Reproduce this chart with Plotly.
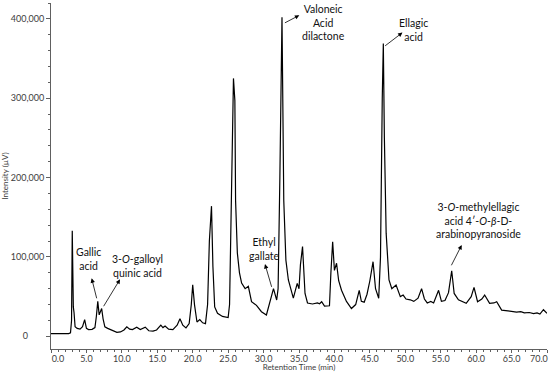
import plotly.graph_objects as go

# Retention time (min) and intensity (µV)
time_min = [0, 2.5, 2.75, 2.9, 3.0, 3.07, 3.15, 3.25, 3.4, 3.7, 4.1, 4.45, 4.75, 5.0, 5.3, 5.8, 6.2, 6.4,
            6.6, 6.8, 6.95, 7.15, 7.35, 7.6, 8.0, 8.7, 9.3, 9.8, 10.3, 10.7, 11.1, 11.5, 12.1, 12.6, 13.3,
            13.8, 14.4, 14.9, 15.5, 15.8, 16.1, 16.6, 17.2, 17.8, 18.2, 18.6, 19.05, 19.5, 19.8, 20.0,
            20.25, 20.6, 21.0, 21.4, 21.8, 22.1, 22.35, 22.65, 22.85, 23.1, 23.5, 24.2, 25.0, 25.2,
            25.4, 25.6, 25.75, 25.95, 26.05, 26.3, 26.6, 26.9, 27.4, 27.85, 28.3, 29.0, 29.7, 30.4,
            30.8, 31.4, 31.85, 32.05, 32.3, 32.6, 32.85, 33.15, 33.5, 33.9, 34.2, 34.75, 35.0, 35.2,
            35.5, 35.85, 36.2, 36.9, 37.6, 37.9, 38.2, 38.6, 39.3, 39.5, 39.75, 40.0, 40.3, 40.6, 41.0,
            41.7, 42.4, 43.0, 43.5, 43.8, 44.2, 44.6, 45.0, 45.45, 45.8, 46.25, 46.5, 46.75, 46.9,
            47.05, 47.3, 47.7, 48.1, 48.7, 49.3, 49.7, 50.1, 50.7, 51.2, 51.8, 52.3, 52.7, 53.1, 53.6,
            54.0, 54.7, 55.1, 55.6, 56.1, 56.55, 56.9, 57.5, 58.6, 59.3, 59.7, 60.2, 60.8, 61.2, 61.9,
            62.5, 62.9, 63.6, 64.3, 65.0, 65.7, 66.3, 66.8, 67.5, 68.1, 68.6, 69.0, 69.5, 69.8, 70.0]
intensity = [3500, 3500, 4500, 20000, 133000, 60000, 37000, 30000, 12000, 10000, 9000, 12000, 21000,
             10000, 8500, 8800, 11000, 25000, 44000, 27000, 30000, 35000, 22000, 12000, 10000, 7000,
             5000, 5500, 8000, 12000, 9000, 8500, 11500, 8500, 11500, 7000, 6500, 8000, 14000, 11000,
             13000, 9000, 8500, 14000, 22000, 14000, 10500, 16000, 40000, 65000, 40000, 18000, 21000,
             17000, 16000, 40000, 120000, 164000, 88000, 37000, 29000, 25000, 23500, 40000, 130000,
             260000, 325000, 297000, 171000, 105000, 80000, 67000, 60000, 63000, 43600, 39000, 31000,
             26800, 39000, 60000, 45700, 60000, 200000, 402000, 171000, 96000, 71000, 58000, 48000,
             66700, 60000, 90000, 113000, 54000, 42000, 40700, 42000, 41000, 43600, 38000, 38500, 80000,
             119000, 83000, 92000, 70000, 58000, 44000, 35000, 40000, 58000, 44000, 43000, 53000,
             70000, 94000, 60000, 48000, 100000, 300000, 369000, 250000, 130000, 71000, 60000, 64600,
             50000, 52000, 47000, 46000, 44000, 48000, 60000, 47000, 42000, 44000, 42000, 58000, 44000,
             45000, 55000, 82600, 54000, 46000, 41500, 50000, 61700, 43600, 47000, 52000, 41500, 42000,
             43600, 33000, 32000, 31500, 30500, 31000, 29500, 30000, 28500, 29500, 28000, 33500, 31000,
             29000]

# Tick labels
x_tick_vals = [0, 5, 10, 15, 20, 25, 30, 35, 40, 45, 50, 55, 60, 65, 70]
x_tick_text = ["\u00a0" * 6 + "0.0", "5.0", "10.0", "15.0", "20.0", "25.0", "30.0", "35.0", "40.0",
               "45.0", "50.0", "55.0", "60.0", "65.0", "70.0" + "\u00a0" * 7]
y_tick_vals = [0, 100000, 200000, 300000, 400000]
y_tick_text = ["0" + "\u00a0" * 7, "100,000", "200,000", "300,000", "400,000"]

# Compound labels: text, label centre (min, µV), arrow head (min, µV), arrow tail (min, µV)
label_text = ["Gallic<br>acid",
              "3-<i>O</i>-galloyl<br>quinic acid",
              "Ethyl<br>gallate",
              "Valoneic<br>Acid<br>dilactone",
              "Ellagic<br>acid",
              "3-<i>O</i>-methylellagic<br>acid 4\u2032-<i>O</i>-<i>\u03b2</i>-D-<br>arabinopyranoside"]
label_x = [5.3, 12.2, 30.2, 38.4, 51.1, 60.3]
label_y = [98000, 88000, 110000, 395000, 386000, 146000]
head_x = [5.74, 9.74, 30.2, 35.04, 49.6, 57.96]
head_y = [73000, 71800, 91000, 404500, 382700, 115000]
tail_x = [6.5, 7.3, 31.2, 32.8, 46.95, 56.4]
tail_y = [46000, 36000, 60400, 394000, 364600, 87600]

FONT = "Lato, 'Open Sans', sans-serif"

fig = go.Figure()
fig.add_trace(go.Scatter(x=time_min, y=intensity, mode="lines",
                         line=dict(color="#000000", width=1.2), hoverinfo="skip"))

for i in range(len(label_text)):
    fig.add_annotation(x=head_x[i], y=head_y[i], ax=tail_x[i], ay=tail_y[i],
                       xref="x", yref="y", axref="x", ayref="y", text="",
                       showarrow=True, arrowhead=2, arrowsize=1.1, arrowwidth=0.8,
                       arrowcolor="#000000")
    fig.add_annotation(x=label_x[i], y=label_y[i], xref="x", yref="y", text=label_text[i],
                       showarrow=False, xanchor="center", yanchor="middle", align="center",
                       font=dict(family=FONT, size=10.5, color="#111111"))

fig.update_layout(
    width=550, height=372,
    margin=dict(l=51, r=3, t=3, b=23),
    paper_bgcolor="white", plot_bgcolor="white",
    showlegend=False,
    font=dict(family=FONT, size=9, color="#404040"),
)
fig.update_xaxes(range=[0, 70], showgrid=False, zeroline=False,
                 showline=True, linecolor="#606060", linewidth=1,
                 ticks="outside", ticklen=3, tickcolor="#606060", tickwidth=1,
                 tickvals=x_tick_vals, ticktext=x_tick_text, ticklabeloverflow="allow",
                 ticklabelstandoff=-2,
                 minor=dict(ticks="outside", ticklen=2, dtick=1, tickcolor="#606060"),
                 tickfont=dict(size=9, color="#404040"),
                 title=dict(text="Retention Time (min)", font=dict(size=8, color="#404040"),
                            standoff=0),
                 automargin=False)
fig.update_yaxes(range=[-16000, 420000], showgrid=False, zeroline=False,
                 showline=True, linecolor="#606060", linewidth=1,
                 ticks="outside", ticklen=4, tickcolor="#606060", tickwidth=1,
                 tickvals=y_tick_vals, ticktext=y_tick_text,
                 minor=dict(ticks="outside", ticklen=2, dtick=20000, tickcolor="#606060"),
                 tickfont=dict(size=9, color="#404040"),
                 title=dict(text="Intensity (\u00b5V)", font=dict(size=8, color="#404040"),
                            standoff=2),
                 automargin=False)

fig.write_html("out.html", config={"displayModeBar": False},
               post_script="document.body.style.margin='0';")
